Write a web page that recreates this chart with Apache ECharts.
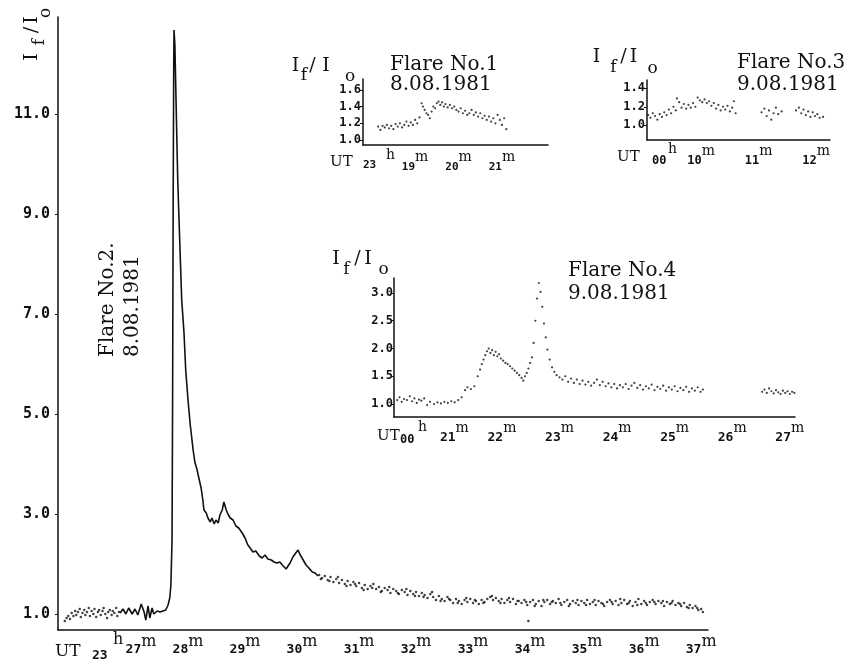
<!DOCTYPE html>
<html><head><meta charset="utf-8">
<script src="https://cdn.jsdelivr.net/npm/echarts@6/dist/echarts.min.js"></script>
<style>html,body{margin:0;padding:0;background:#fff}#c{width:853px;height:662px}</style>
</head><body><div id="c"></div>
<script>
// ---------- DATA (minutes after the hour, I_f/I_o) ----------
// Flare No.2, 8.08.1981, 23h
const flare2Ticks = [27, 28, 29, 30, 31, 32, 33, 34, 35, 36, 37];
const flare2YTicks = [1, 3, 5, 7, 9, 11];
const flare2Pre = [
[25.84,0.86],[25.87,0.92],[25.90,0.96],[25.93,0.90],[25.96,1.02],[25.99,0.96],[26.02,1.06],[26.04,0.98],
[26.07,1.04],[26.10,1.10],[26.12,0.94],[26.15,1.02],[26.18,1.08],[26.20,0.98],[26.23,1.04],[26.26,1.12],
[26.28,0.96],[26.31,1.06],[26.34,1.00],[26.36,1.10],[26.39,0.94],[26.42,1.04],[26.44,1.08],[26.47,0.98],
[26.50,1.06],[26.52,1.12],[26.55,1.00],[26.58,0.92],[26.60,1.04],[26.63,1.08],[26.66,0.98],[26.68,1.06],
[26.71,1.02],[26.74,1.12],[26.76,0.96],[26.79,1.04]
];
const flare2Line = [
[26.81,1.02],[26.86,1.10],[26.91,1.00],[26.96,1.12],[27.02,1.00],[27.07,1.10],[27.12,0.98],[27.18,1.20],
[27.23,1.04],[27.26,0.88],[27.30,1.16],[27.33,0.92],[27.37,1.12],[27.40,1.00],[27.46,1.06],[27.51,1.04],
[27.56,1.06],[27.61,1.08],[27.65,1.18],[27.68,1.32],[27.70,1.58],[27.72,2.48],[27.73,5.28],[27.74,9.28],
[27.75,12.08],[27.755,12.68],[27.77,12.38],[27.79,11.28],[27.82,9.68],[27.86,8.28],[27.89,7.28],[27.93,6.62],
[27.96,5.88],[28.00,5.28],[28.04,4.78],[28.09,4.28],[28.12,4.04],[28.16,3.88],[28.19,3.72],[28.23,3.52],
[28.26,3.28],[28.28,3.08],[28.32,3.02],[28.35,2.92],[28.39,2.84],[28.42,2.92],[28.46,2.80],[28.49,2.88],
[28.53,2.82],[28.56,2.98],[28.60,3.08],[28.63,3.24],[28.67,3.08],[28.70,3.00],[28.74,2.92],[28.79,2.88],
[28.84,2.76],[28.89,2.72],[28.95,2.62],[29.00,2.52],[29.05,2.38],[29.09,2.32],[29.14,2.24],[29.19,2.26],
[29.25,2.16],[29.30,2.12],[29.35,2.18],[29.40,2.10],[29.46,2.08],[29.51,2.04],[29.56,2.02],[29.61,2.04],
[29.67,1.96],[29.72,1.90],[29.75,1.94],[29.79,2.02],[29.84,2.14],[29.89,2.22],[29.93,2.28],[29.96,2.20],
[30.02,2.08],[30.07,1.98],[30.12,1.92],[30.18,1.84],[30.23,1.82],[30.28,1.76]
];
const flare2Tail = [
[30.30,1.78],[30.35,1.72],[30.40,1.76],[30.45,1.68],[30.50,1.74],[30.55,1.64],[30.60,1.70],[30.65,1.62],
[30.70,1.68],[30.75,1.60],[30.80,1.66],[30.85,1.58],[30.90,1.64],[30.95,1.56],[31.00,1.62],[31.05,1.52],
[31.10,1.58],[31.15,1.50],[31.20,1.56],[31.25,1.60],[31.30,1.50],[31.35,1.54],[31.40,1.46],[31.45,1.52],
[31.50,1.48],[31.55,1.42],[31.60,1.50],[31.65,1.46],[31.70,1.40],[31.75,1.48],[31.80,1.44],[31.85,1.38],
[31.90,1.46],[31.95,1.40],[32.00,1.44],[32.05,1.36],[32.10,1.42],[32.15,1.38],[32.20,1.32],[32.25,1.40],
[32.30,1.34],[32.35,1.28],[32.40,1.36],[32.45,1.30],[32.50,1.26],[32.55,1.34],[32.60,1.28],[32.65,1.22],
[32.70,1.30],[32.75,1.26],[32.80,1.20],[32.85,1.28],[32.90,1.24],[32.95,1.30],[33.00,1.22],[33.05,1.26],
[33.10,1.20],[33.15,1.28],[33.20,1.24],[33.25,1.30],[33.30,1.34],[33.35,1.28],[33.40,1.32],[33.45,1.26],
[33.50,1.30],[33.55,1.22],[33.60,1.28],[33.65,1.24],[33.70,1.30],[33.75,1.20],[33.80,1.26],[33.85,1.22],
[33.90,1.28],[33.95,1.18],[34.00,1.24],[34.05,1.28],[34.10,1.20],[34.15,1.26],[34.20,1.16],[34.25,1.24],
[34.30,1.28],[34.35,1.20],[34.40,1.26],[34.45,1.22],[34.50,1.30],[34.55,1.18],[34.60,1.24],[34.65,1.28],
[34.70,1.20],[34.75,1.26],[34.80,1.22],[34.85,1.18],[34.90,1.26],[34.95,1.22],[35.00,1.28],[35.05,1.20],
[35.10,1.24],[35.15,1.18],[35.20,1.26],[35.25,1.22],[35.30,1.16],[35.35,1.24],[35.40,1.28],[35.45,1.20],
[35.50,1.26],[35.55,1.18],[35.60,1.22],[35.65,1.28],[35.70,1.20],[35.75,1.26],[35.80,1.16],[35.85,1.24],
[35.90,1.30],[35.95,1.20],[36.00,1.26],[36.05,1.18],[36.10,1.24],[36.15,1.28],[36.20,1.20],[36.25,1.26],
[36.30,1.22],[36.35,1.16],[36.40,1.24],[36.45,1.20],[36.50,1.26],[36.55,1.18],[36.60,1.22],[36.65,1.16],
[36.70,1.22],[36.75,1.14],[36.80,1.18],[36.85,1.12],[36.90,1.16],[36.95,1.08],[37.00,1.10],[37.03,1.04],
[30.33,1.70],[30.48,1.66],[30.63,1.74],[30.78,1.56],[30.93,1.60],[31.08,1.48],[31.23,1.52],[31.38,1.44],
[31.53,1.54],[31.68,1.42],[31.83,1.50],[31.98,1.36],[32.13,1.34],[32.28,1.44],[32.43,1.26],[32.58,1.30],
[32.73,1.22],[32.88,1.32],[33.03,1.28],[33.18,1.22],[33.33,1.36],[33.48,1.22],[33.63,1.32],[33.78,1.26],
[33.93,1.24],[34.08,1.16],[34.23,1.28],[34.38,1.24],[34.53,1.22],[34.68,1.16],[34.83,1.28],[34.98,1.18],
[35.13,1.28],[35.28,1.20],[35.43,1.24],[35.58,1.30],[35.73,1.22],[35.88,1.18],[36.03,1.22],[36.18,1.24],
[36.33,1.26],[36.48,1.22],[36.63,1.20],[36.78,1.12],[36.93,1.12],[33.97,0.86]
];
// Flare No.1, 8.08.1981, 23h
const flare1Ticks = [19, 20, 21];
const flare1YTicks = [1.0, 1.2, 1.4, 1.6];
const flare1 = [
[18.15,1.16],[18.20,1.12],[18.25,1.17],[18.30,1.15],[18.35,1.18],[18.40,1.14],[18.45,1.17],[18.50,1.13],
[18.55,1.19],[18.60,1.16],[18.65,1.20],[18.70,1.15],[18.75,1.18],[18.80,1.22],[18.85,1.17],[18.90,1.21],
[18.95,1.18],[19.00,1.24],[19.05,1.20],[19.10,1.27],[19.15,1.44],[19.18,1.40],[19.22,1.36],[19.26,1.32],
[19.30,1.30],[19.34,1.26],[19.38,1.34],[19.42,1.40],[19.46,1.38],[19.50,1.44],[19.54,1.46],[19.58,1.42],
[19.62,1.45],[19.66,1.40],[19.70,1.43],[19.75,1.39],[19.80,1.42],[19.85,1.38],[19.90,1.40],[19.95,1.36],
[20.00,1.34],[20.05,1.38],[20.10,1.32],[20.15,1.35],[20.20,1.30],[20.25,1.32],[20.30,1.36],[20.35,1.30],
[20.40,1.33],[20.45,1.28],[20.50,1.32],[20.55,1.26],[20.60,1.29],[20.65,1.24],[20.70,1.28],[20.75,1.22],
[20.80,1.26],[20.85,1.20],[20.90,1.30],[20.95,1.24],[21.00,1.18],[21.05,1.26],[21.10,1.13]
];
// Flare No.3, 9.08.1981, 00h
const flare3Ticks = [10, 11, 12];
const flare3YTicks = [1.0, 1.2, 1.4];
const flare3 = [
[9.08,1.11],[9.12,1.08],[9.16,1.13],[9.20,1.10],[9.24,1.06],[9.28,1.12],[9.32,1.09],[9.36,1.14],
[9.40,1.11],[9.44,1.17],[9.48,1.13],[9.52,1.20],[9.56,1.16],[9.58,1.29],[9.62,1.25],[9.66,1.19],
[9.70,1.23],[9.74,1.18],[9.78,1.22],[9.82,1.19],[9.86,1.24],[9.90,1.20],[9.94,1.30],[9.98,1.27],
[10.02,1.25],[10.06,1.28],[10.10,1.24],[10.14,1.26],[10.18,1.21],[10.22,1.24],[10.26,1.18],[10.30,1.22],
[10.34,1.16],[10.38,1.20],[10.42,1.17],[10.46,1.21],[10.50,1.15],[10.54,1.19],[10.57,1.26],[10.60,1.13],
[11.05,1.14],[11.10,1.18],[11.14,1.10],[11.18,1.16],[11.22,1.06],[11.26,1.13],[11.30,1.19],[11.34,1.12],
[11.40,1.15],
[11.65,1.16],[11.70,1.19],[11.74,1.13],[11.78,1.17],[11.82,1.11],[11.86,1.15],[11.90,1.09],[11.94,1.14],
[11.98,1.10],[12.02,1.12],[12.06,1.08],[12.12,1.09]
];
// Flare No.4, 9.08.1981, 00h
const flare4Ticks = [21, 22, 23, 24, 25, 26, 27];
const flare4YTicks = [1.0, 1.5, 2.0, 2.5, 3.0];
const flare4 = [
[20.18,1.07],[20.22,1.12],[20.26,1.04],[20.30,1.09],[20.35,1.07],[20.40,1.14],[20.44,1.05],[20.48,1.10],
[20.52,1.02],[20.56,1.08],[20.60,1.06],[20.65,1.10],[20.70,0.98],[20.75,1.04],[20.82,1.00],[20.88,1.03],
[20.94,1.01],[21.00,1.04],[21.06,1.02],[21.12,1.05],[21.18,1.03],[21.24,1.07],[21.30,1.12],[21.36,1.25],
[21.40,1.30],[21.46,1.27],[21.52,1.32],[21.58,1.50],[21.62,1.62],[21.65,1.72],[21.68,1.80],[21.71,1.88],
[21.74,1.95],[21.77,2.00],[21.80,1.92],[21.83,1.97],[21.86,1.88],[21.89,1.94],[21.92,1.86],[21.95,1.90],
[21.98,1.82],[22.02,1.78],[22.06,1.74],[22.10,1.72],[22.14,1.68],[22.18,1.64],[22.22,1.60],[22.26,1.56],
[22.30,1.52],[22.34,1.47],[22.37,1.42],[22.40,1.50],[22.43,1.56],[22.46,1.64],[22.49,1.74],[22.52,1.84],
[22.55,2.10],[22.58,2.50],[22.61,2.90],[22.64,3.18],[22.67,3.02],[22.70,2.75],[22.73,2.45],[22.76,2.20],
[22.79,1.98],[22.83,1.80],[22.87,1.66],[22.91,1.58],[22.95,1.52],[23.00,1.48],[23.05,1.44],[23.10,1.50],
[23.15,1.40],[23.20,1.46],[23.25,1.38],[23.30,1.44],[23.35,1.36],[23.40,1.42],[23.45,1.35],[23.50,1.40],
[23.55,1.33],[23.60,1.38],[23.65,1.44],[23.70,1.34],[23.75,1.40],[23.80,1.32],[23.85,1.37],[23.90,1.30],
[23.95,1.36],[24.00,1.28],[24.05,1.34],[24.10,1.30],[24.15,1.36],[24.20,1.27],[24.25,1.33],[24.30,1.38],
[24.35,1.29],[24.40,1.34],[24.45,1.26],[24.50,1.32],[24.55,1.28],[24.60,1.35],[24.65,1.25],[24.70,1.31],
[24.75,1.27],[24.80,1.33],[24.85,1.24],[24.90,1.30],[24.95,1.26],[25.00,1.32],[25.05,1.23],[25.10,1.29],
[25.15,1.25],[25.20,1.31],[25.25,1.22],[25.30,1.28],[25.35,1.24],[25.40,1.30],[25.45,1.22],[25.49,1.26],
[26.52,1.22],[26.56,1.26],[26.60,1.20],[26.64,1.28],[26.68,1.23],[26.72,1.19],[26.76,1.25],[26.80,1.21],
[26.84,1.18],[26.88,1.24],[26.92,1.20],[26.96,1.23],[27.00,1.18],[27.04,1.22],[27.08,1.20]
];

// ---------- CHART ----------
const INK = '#111';
const MONO = 'DejaVu Sans Mono';
const SERIF = 'DejaVu Serif';

function minuteAxis(gridIndex, min, max, ticks, margin, dSize, mSize, mPad, shifted) {
  return {
    type: 'value', gridIndex, min, max,
    axisLine: { show: true, onZero: false, lineStyle: { color: INK, width: 1.5 } },
    axisTick: { show: false }, splitLine: { show: false },
    axisLabel: {
      customValues: ticks, margin,
      formatter: v => (v === shifted ? '{p|}' : '') + '{d|' + v + '}{m|m}',
      rich: {
        p: { width: 20 },
        d: { fontFamily: MONO, fontWeight: 'bold', fontSize: dSize, verticalAlign: 'bottom', color: INK },
        m: { fontFamily: SERIF, fontSize: mSize, verticalAlign: 'top', padding: [0, 0, mPad, 0], color: INK }
      }
    }
  };
}
function valueAxis(gridIndex, min, max, ticks, fontSize, margin) {
  return {
    type: 'value', gridIndex, min, max,
    axisLine: { show: true, onZero: false, lineStyle: { color: INK, width: 1.5 } },
    axisTick: { show: true, customValues: ticks, length: 3, lineStyle: { color: INK, width: 1 } },
    splitLine: { show: false },
    axisLabel: {
      customValues: ticks, margin,
      formatter: v => v.toFixed(1),
      fontFamily: MONO, fontWeight: 'bold', fontSize, color: INK
    }
  };
}
function txt(x, y, text, o) {
  o = o || {};
  return {
    type: 'text', x, y, rotation: o.rot || 0, silent: true,
    style: {
      text, fill: INK,
      fontFamily: o.family || SERIF, fontSize: o.size || 20, fontWeight: o.weight || 'normal',
      align: o.align || 'left', textAlign: o.align || 'left',
      verticalAlign: 'middle', textVerticalAlign: 'middle'
    }
  };
}
// I_f / I_o label built from glyph pieces: [xI, yI, xf, yf, xSlash, xI2, xo, yo]
function ratio(p, size) {
  const c = { align: 'center', size: size };
  const s = { align: 'center', size: size - 2 };
  return [
    txt(p[0], p[1], 'I', c), txt(p[2], p[3], 'f', s), txt(p[4], p[1], '/', c),
    txt(p[5], p[1], 'I', c), txt(p[6], p[7], 'o', s)
  ];
}
function ratioRot(p, size) {
  // rotated reading upward: p = [yI, xI, yf, xf, ySlash, yI2, yo, xo]
  const c = { align: 'center', size: size, rot: Math.PI / 2 };
  const s = { align: 'center', size: size - 2, rot: Math.PI / 2 };
  return [
    txt(p[1], p[0], 'I', c), txt(p[3], p[2], 'f', s), txt(p[1], p[4], '/', c),
    txt(p[1], p[5], 'I', c), txt(p[7], p[6], 'o', s)
  ];
}

const option = {
  backgroundColor: '#fff',
  animation: false,
  grid: [
    { left: 58, top: 17, width: 650, height: 613 },
    { left: 363, top: 79, width: 185, height: 66 },
    { left: 647, top: 80, width: 183, height: 60 },
    { left: 394, top: 278, width: 401, height: 139 }
  ],
  xAxis: [
    minuteAxis(0, 25.72, 37.12, flare2Ticks, 3.5, 13, 16, 7, 27),
    minuteAxis(1, 17.80, 22.06, flare1Ticks, 5, 11, 14, 8.5, null),
    minuteAxis(2, 9.06, 12.24, flare3Ticks, 4, 12, 14, 8.5, null),
    minuteAxis(3, 20.125, 27.09, flare4Ticks, 4.5, 13, 14, 8.5, 21)
  ],
  yAxis: [
    valueAxis(0, 0.68, 12.94, flare2YTicks, 15, 8),
    valueAxis(1, 0.94, 1.73, flare1YTicks, 12, 2),
    valueAxis(2, 0.84, 1.49, flare3YTicks, 12, 2),
    valueAxis(3, 0.766, 3.27, flare4YTicks, 12, 1)
  ],
  series: [
    { type: 'scatter', xAxisIndex: 0, yAxisIndex: 0, data: flare2Pre, symbolSize: 2.5, itemStyle: { color: INK } },
    { type: 'line', xAxisIndex: 0, yAxisIndex: 0, data: flare2Line, showSymbol: false, lineStyle: { color: INK, width: 1.6 } },
    { type: 'scatter', xAxisIndex: 0, yAxisIndex: 0, data: flare2Tail, symbolSize: 2.5, itemStyle: { color: INK } },
    { type: 'scatter', xAxisIndex: 1, yAxisIndex: 1, data: flare1, symbolSize: 2.2, itemStyle: { color: INK } },
    { type: 'scatter', xAxisIndex: 2, yAxisIndex: 2, data: flare3, symbolSize: 2.2, itemStyle: { color: INK } },
    { type: 'scatter', xAxisIndex: 3, yAxisIndex: 3, data: flare4, symbolSize: 2.2, itemStyle: { color: INK } }
  ],
  graphic: [].concat(
    // main panel
    ratioRot([57, 32, 42, 40, 30, 20, 13, 46], 19),
    [
      txt(108, 357, 'Flare No.2.', { rot: Math.PI / 2 }),
      txt(133, 357, '8.08.1981', { rot: Math.PI / 2 }),
      txt(55, 652, 'UT', { size: 17 }),
      txt(92, 656, '23', { family: MONO, weight: 'bold', size: 13 }),
      txt(113, 640, 'h', { size: 16 })
    ],
    // Flare No.1
    ratio([295.5, 66, 304, 76, 312.5, 326, 350, 77], 19),
    [
      txt(390, 64.5, 'Flare No.1'),
      txt(390, 85, '8.08.1981'),
      txt(330, 162.5, 'UT', { size: 15 }),
      txt(363, 165, '23', { family: MONO, weight: 'bold', size: 11 }),
      txt(386, 155, 'h', { size: 14 })
    ],
    // Flare No.3
    ratio([596.5, 57.5, 613.5, 68, 623.5, 633.5, 652.5, 68.5], 19),
    [
      txt(737, 62.5, 'Flare No.3'),
      txt(737, 85, '9.08.1981'),
      txt(617, 157.5, 'UT', { size: 15 }),
      txt(652, 160.5, '00', { family: MONO, weight: 'bold', size: 12 }),
      txt(668, 149, 'h', { size: 14 })
    ],
    // Flare No.4
    ratio([336, 259, 346.5, 270, 357.5, 368, 383.5, 270], 19),
    [
      txt(568, 270.5, 'Flare No.4'),
      txt(568, 293.5, '9.08.1981'),
      txt(377, 436.5, 'UT', { size: 15 }),
      txt(400, 440, '00', { family: MONO, weight: 'bold', size: 12 }),
      txt(418, 427.5, 'h', { size: 14 })
    ]
  )
};
const chart = echarts.init(document.getElementById('c'));
chart.setOption(option);
</script>
</body></html>
